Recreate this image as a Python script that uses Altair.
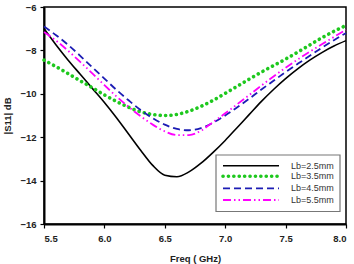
import altair as alt
import pandas as pd

# Frequency sweep (GHz) and |S11| (dB) for each stub length Lb
freq = [5.5, 5.6, 5.7, 5.8, 5.9, 6.0, 6.1, 6.2, 6.3, 6.4, 6.5, 6.6, 6.7,
        6.8, 6.9, 7.0, 7.1, 7.2, 7.3, 7.4, 7.5, 7.6, 7.7, 7.8, 7.9, 8.0]
s11_lb25 = [-7.0, -7.75, -8.45, -9.1, -9.75, -10.4, -11.1, -11.85, -12.6, -13.3,
            -13.75, -13.82, -13.6, -13.2, -12.7, -12.15, -11.55, -10.95, -10.35,
            -9.8, -9.3, -8.85, -8.45, -8.1, -7.8, -7.55]
s11_lb35 = [-8.45, -8.75, -9.07, -9.4, -9.72, -10.05, -10.35, -10.62, -10.83,
            -10.95, -11.0, -10.95, -10.8, -10.58, -10.3, -9.98, -9.65, -9.32,
            -9.0, -8.7, -8.4, -8.08, -7.75, -7.42, -7.12, -6.85]
s11_lb45 = [-6.9, -7.3, -7.75, -8.25, -8.78, -9.3, -9.82, -10.3, -10.75, -11.12,
            -11.42, -11.62, -11.68, -11.58, -11.33, -11.0, -10.62, -10.22, -9.8,
            -9.4, -9.0, -8.62, -8.25, -7.88, -7.53, -7.2]
s11_lb55 = [-7.15, -7.55, -8.02, -8.53, -9.06, -9.6, -10.12, -10.6, -11.03, -11.42,
            -11.73, -11.9, -11.9, -11.7, -11.3, -10.9, -10.48, -10.05, -9.62,
            -9.2, -8.8, -8.42, -8.06, -7.72, -7.38, -7.05]
labels = ["Lb=2.5mm", "Lb=3.5mm", "Lb=4.5mm", "Lb=5.5mm"]
x_ticks = [5.5, 6.0, 6.5, 7.0, 7.5, 8.0]
y_ticks = [-16, -14, -12, -10, -8, -6]

series = [s11_lb25, s11_lb35, s11_lb45, s11_lb55]
styles = [
    dict(color="#000000", strokeWidth=1.6),
    dict(color="#1ec81e", strokeWidth=3.6, strokeDash=[0.1, 5.3], strokeCap="round"),
    dict(color="#1c1cb4", strokeWidth=1.8, strokeDash=[7, 4]),
    dict(color="#ff00ff", strokeWidth=1.8, strokeDash=[8, 3, 1.5, 3, 1.5, 3]),
]

xscale = alt.Scale(domain=[5.5, 8.0], nice=False, zero=False)
yscale = alt.Scale(domain=[-16, -6], nice=False, zero=False)
xaxis = alt.Axis(values=x_ticks, format=".1f", title="Freq ( GHz)")
yaxis = alt.Axis(values=y_ticks, title="|S11| dB")

layers = []
for i, (vals, st) in enumerate(zip(series, styles)):
    df = pd.DataFrame({"freq": freq, "s11": vals, "label": labels[i]})
    layers.append(
        alt.Chart(df).mark_line(interpolate="monotone", **st).encode(
            x=alt.X("freq:Q", scale=xscale, axis=xaxis),
            y=alt.Y("s11:Q", scale=yscale, axis=yaxis),
        )
    )

# Legend box
legend_box = alt.Chart(pd.DataFrame({"k": [0]})).mark_rect(
    fill="white", stroke="#777777", strokeWidth=1.2
).encode(x=alt.value(172), x2=alt.value(296), y=alt.value(148), y2=alt.value(204.5))
layers.append(legend_box)

row_y = [158.7, 169.3, 181.3, 193]
for i, st in enumerate(styles):
    ldf = pd.DataFrame({"label": [labels[i]]})
    layers.append(
        alt.Chart(ldf).mark_rule(**st).encode(
            x=alt.value(179), x2=alt.value(235), y=alt.value(row_y[i])
        )
    )
    layers.append(
        alt.Chart(ldf).mark_text(
            align="left", baseline="middle", font="Liberation Sans",
            fontSize=9, color="#333333"
        ).encode(x=alt.value(247), y=alt.value(row_y[i]), text="label:N")
    )

chart = alt.layer(*layers).properties(
    width=302, height=217,
    autosize=alt.AutoSizeParams(type="none"),
    padding={"left": 44, "top": 7, "right": 8, "bottom": 40},
).configure_view(
    stroke="#000000", strokeWidth=1.5
).configure_axis(
    grid=False, domainColor="#000000", domainWidth=2,
    tickColor="#000000", tickSize=4, tickWidth=1.2,
    labelFont="Liberation Sans", labelFontWeight="bold", labelFontSize=9.5,
    labelColor="#222222",
    titleFont="Liberation Sans", titleFontWeight="bold", titleFontSize=9.5,
    titleColor="#222222",
).configure_axisX(
    labelPadding=5, titlePadding=11
).configure_axisY(
    labelPadding=4, titlePadding=7
)

chart.save("out.html", embed_options={"renderer": "svg", "actions": False})
